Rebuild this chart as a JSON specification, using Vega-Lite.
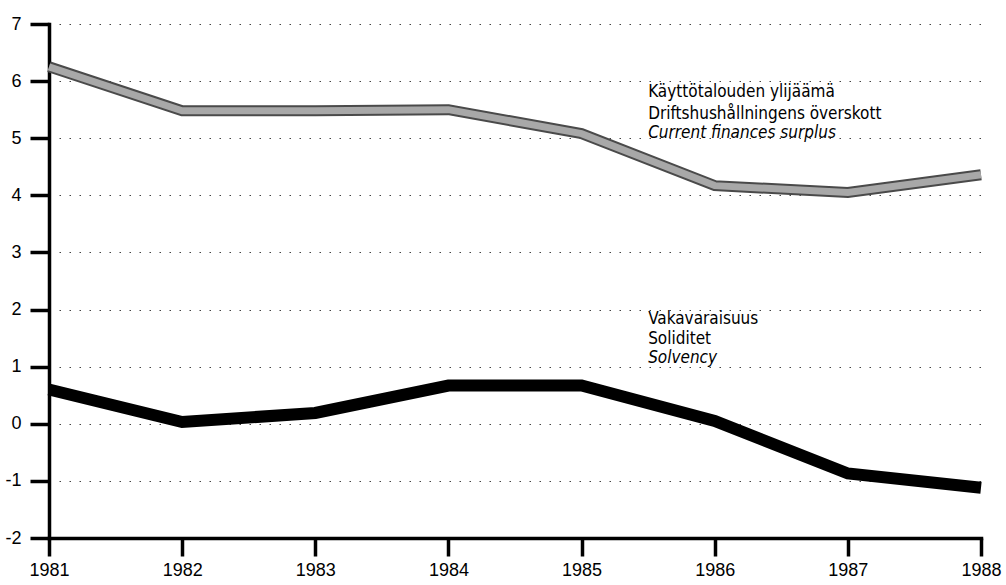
{
  "$schema": "https://vega.github.io/schema/vega-lite/v6.json",
  "width": 932,
  "height": 514,
  "autosize": {"type": "none"},
  "padding": {"left": 49, "top": 24, "right": 25, "bottom": 47},
  "background": "white",
  "config": {
    "view": {"stroke": null},
    "axis": {
      "domainColor": "black", "domainWidth": 3.5, "domainOpacity": 1, "domainCap": "square",
      "tickColor": "black", "tickWidth": 3.5, "tickOpacity": 1, "ticks": true, "tickCap": "butt",
      "labelFont": "Liberation Sans", "labelFontSize": 18, "labelColor": "black",
      "labelFlush": false, "labelBound": false, "labelOverlap": false, "title": null
    },
    "axisX": {"tickSize": 18, "labelPadding": 5, "grid": false},
    "axisY": {"tickSize": 19, "labelPadding": 9, "grid": true, "gridColor": "#444", "gridDash": [1.5, 8.5], "gridWidth": 1}
  },
  "datasets": {
    "series": [
      {"series": "surplus", "year": 1981, "value": 6.25},
      {"series": "surplus", "year": 1982, "value": 5.48},
      {"series": "surplus", "year": 1983, "value": 5.48},
      {"series": "surplus", "year": 1984, "value": 5.5},
      {"series": "surplus", "year": 1985, "value": 5.08},
      {"series": "surplus", "year": 1986, "value": 4.17},
      {"series": "surplus", "year": 1987, "value": 4.05},
      {"series": "surplus", "year": 1988, "value": 4.36},
      {"series": "solvency", "year": 1981, "value": 0.6},
      {"series": "solvency", "year": 1982, "value": 0.03},
      {"series": "solvency", "year": 1983, "value": 0.19},
      {"series": "solvency", "year": 1984, "value": 0.67},
      {"series": "solvency", "year": 1985, "value": 0.67},
      {"series": "solvency", "year": 1986, "value": 0.05},
      {"series": "solvency", "year": 1987, "value": -0.87},
      {"series": "solvency", "year": 1988, "value": -1.12}
    ],
    "labels": [
      {"label": "Käyttötalouden ylijäämä", "year": 1985.5, "value": 5.81, "italic": false},
      {"label": "Driftshushållningens överskott", "year": 1985.5, "value": 5.43, "italic": false},
      {"label": "Current finances surplus", "year": 1985.5, "value": 5.1, "italic": true},
      {"label": "Vakavaraisuus", "year": 1985.5, "value": 1.84, "italic": false},
      {"label": "Soliditet", "year": 1985.5, "value": 1.49, "italic": false},
      {"label": "Solvency", "year": 1985.5, "value": 1.16, "italic": true}
    ]
  },
  "encoding": {
    "x": {
      "field": "year", "type": "quantitative",
      "scale": {"domain": [1981, 1988], "nice": false, "zero": false},
      "axis": {"values": [1981, 1982, 1983, 1984, 1985, 1986, 1987, 1988], "format": "d", "tickSize": 18, "tickWidth": 3.5, "tickColor": "black", "labelFontSize": 18, "labelFontWeight": 500}
    },
    "y": {
      "field": "value", "type": "quantitative",
      "scale": {"domain": [-2, 7], "nice": false, "zero": false},
      "axis": {"values": [-2, -1, 0, 1, 2, 3, 4, 5, 6, 7], "tickSize": 19, "tickWidth": 3.5, "tickColor": "black", "labelFontSize": 18, "labelFontWeight": 500, "labelExpr": "datum.value < 0 ? '-' + abs(datum.value) : '' + datum.value"}
    }
  },
  "layer": [
    {
      "data": {"name": "series"},
      "transform": [{"filter": "datum.series == 'surplus'"}],
      "mark": {"type": "line", "color": "#4a4a4a", "strokeWidth": 11, "strokeJoin": "miter", "strokeCap": "butt"}
    },
    {
      "data": {"name": "series"},
      "transform": [{"filter": "datum.series == 'surplus'"}],
      "mark": {"type": "line", "color": "#a8a8a8", "strokeWidth": 7, "strokeJoin": "miter", "strokeCap": "butt"}
    },
    {
      "data": {"name": "series"},
      "transform": [{"filter": "datum.series == 'solvency'"}],
      "mark": {"type": "line", "color": "black", "strokeWidth": 12, "strokeJoin": "miter", "strokeCap": "butt"}
    },
    {
      "data": {"name": "labels"},
      "transform": [{"filter": "!datum.italic"}],
      "mark": {"type": "text", "align": "left", "baseline": "middle", "font": "DejaVu Sans Condensed, Roboto, sans-serif", "fontSize": 17, "color": "black"},
      "encoding": {"text": {"field": "label"}}
    },
    {
      "data": {"name": "labels"},
      "transform": [{"filter": "datum.italic"}],
      "mark": {"type": "text", "align": "left", "baseline": "middle", "font": "DejaVu Sans Condensed, Roboto, sans-serif", "fontSize": 17, "fontStyle": "italic", "color": "black"},
      "encoding": {"text": {"field": "label"}}
    }
  ]
}
